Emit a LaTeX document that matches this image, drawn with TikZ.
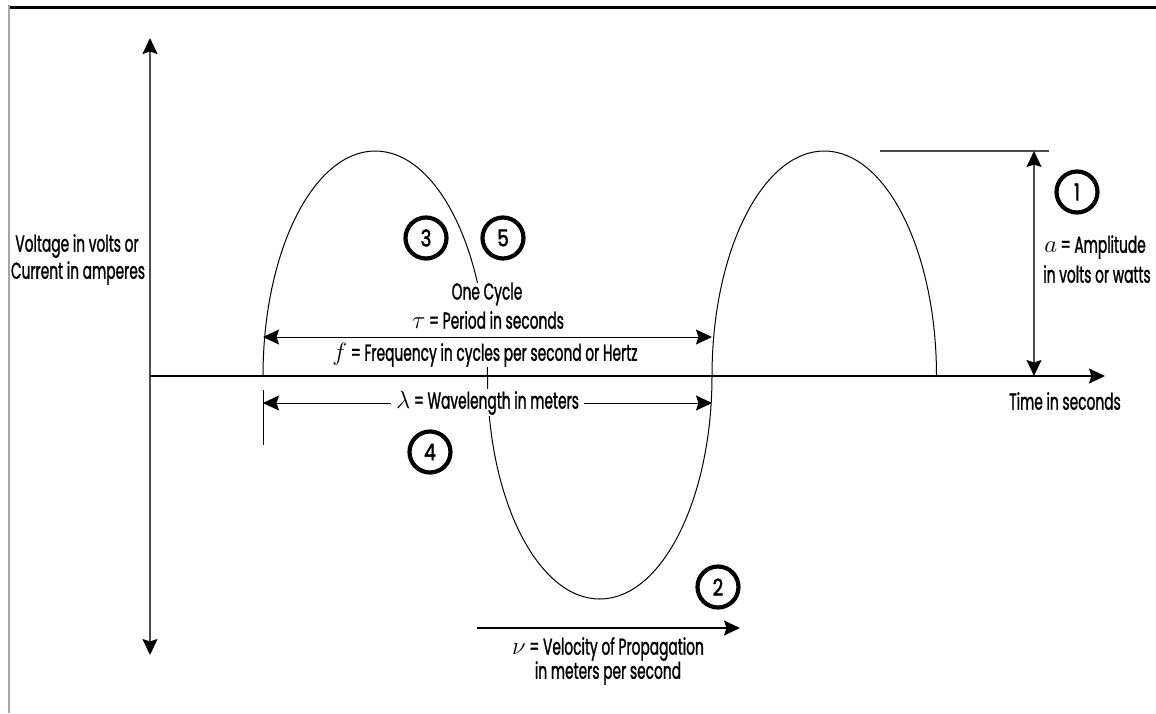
\documentclass[tikz,border=0pt]{standalone}
\usepackage{fontspec}
\setmainfont{Poppins}[FakeStretch=0.6,FakeBold=1.2]
\newfontfamily\numfont{Poppins}[FakeStretch=0.8,FakeBold=2]
\usetikzlibrary{arrows.meta}
\begin{document}
\begin{tikzpicture}[x=1pt,y=-1pt,
  lbl/.style={font=\fontsize{23}{26}\selectfont, inner sep=1pt, align=center},
  numc/.style={circle, draw, line width=4.2pt, minimum size=41pt, inner sep=0pt, font=\numfont\fontsize{23}{23}\selectfont},
  tip/.style={-{Stealth[length=16pt,width=15pt,inset=2.5pt,color=black]}},
  dtip/.style={{Stealth[length=16pt,width=15pt,inset=2.5pt,color=black]}-{Stealth[length=16pt,width=15pt,inset=2.5pt,color=black]}},
  wave/.style={line width=1pt}]
\useasboundingbox (0,0) rectangle (1156,713);
% frame
\draw[line width=3pt] (9,7) -- (1156,7);
\draw[gray!70, line width=2pt] (9,5) -- (9,713);
% axes
\coordinate (O) at (150,376);
\coordinate (ytop) at (150,38);
\coordinate (ybot) at (150,655);
\coordinate (xend) at (1105,376);
\draw[gray!60!black, line width=1.8pt, dtip] (ybot) -- (ytop);
\draw[line width=1.3pt, tip] (O) -- (xend);
% wave
\coordinate (w0) at (263,376);
\draw[wave] (w0) arc[start angle=180,end angle=0,x radius=112.25pt,y radius=225pt]
  arc[start angle=180,end angle=360,x radius=112.25pt,y radius=223pt]
  arc[start angle=180,end angle=0,x radius=112.25pt,y radius=225pt];
\fill[white] (468,283) rectangle (506,367);
\fill[white] (468,389) rectangle (506,414);
\coordinate (e0) at (263,390);
\coordinate (e1) at (263,445);
\draw[wave] (e0) -- (e1);
% period arrow
\coordinate (tl) at (263,337);
\coordinate (tr) at (712,337);
\draw[line width=1pt, dtip] (tl) -- (tr);
\node[lbl] (cyc) at (487,294) {One Cycle};
\node[lbl] (per) at (488,320) {$\tau$ = Period in seconds};
\node[lbl] (frq) at (485,355) {$f$ = Frequency in cycles per second or Hertz};
% wavelength arrow
\coordinate (ll) at (263,403);
\coordinate (lr) at (712,403);
\draw[line width=1pt, dtip] (ll) -- node[lbl, fill=white, inner xsep=5pt] (wl) {$\lambda$ = Wavelength in meters} (lr);
% velocity
\coordinate (vl) at (477,628);
\coordinate (vr) at (740,628);
\draw[line width=1.3pt, tip] (vl) -- (vr);
\node[lbl] (vel) at (608,649) {$\nu$ = Velocity of Propagation};
\node[lbl] (vel2) at (608,673) {in meters per second};
% amplitude
\coordinate (al) at (880,151);
\coordinate (ar) at (1049,151);
\draw[gray!60!black, line width=1.5pt] (al) -- (ar);
\coordinate (at) at (1034,151);
\coordinate (ab) at (1034,376);
\draw[gray!60!black, line width=1.5pt, dtip] (at) -- (ab);
\node[lbl] (amp) at (1095,247) {$a$ = Amplitude};
\node[lbl] (amp2) at (1097,274) {in volts or watts};
% axis labels
\node[lbl] (time) at (1065,401) {Time in seconds};
\node[lbl] (volt) at (77,246) {Voltage in volts or};
\node[lbl] (curr) at (78,273) {Current in amperes};
% circled numbers
\node[numc] (n1) at (1077,192) {1};
\node[numc] (n2) at (718,587) {2};
\node[numc] (n3) at (426,238) {3};
\node[numc] (n4) at (430,452) {4};
\node[numc] (n5) at (503,238) {5};
\end{tikzpicture}
\end{document}
